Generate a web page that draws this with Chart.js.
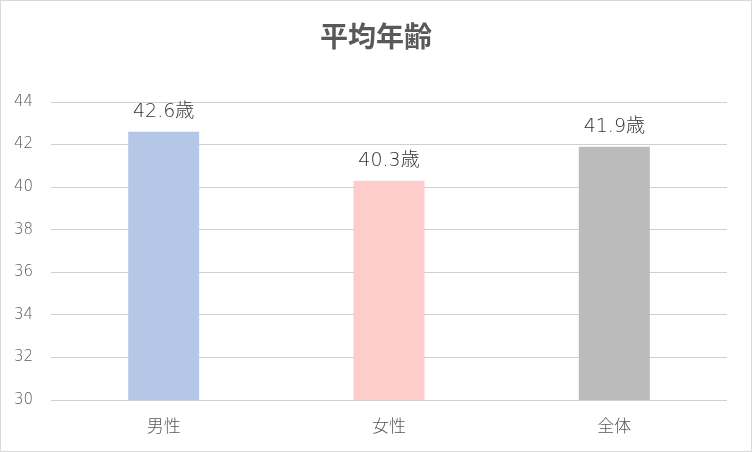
<!DOCTYPE html>
<html>
<head>
<meta charset="utf-8">
<script src="https://cdn.jsdelivr.net/npm/chart.js@4/dist/chart.umd.min.js"></script>
<style>
  html, body { margin: 0; padding: 0; background: #fff; }
  #wrap { width: 750px; height: 450px; border: 1px solid #d9d9d9; position: relative; }
</style>
</head>
<body>
<div id="wrap"><canvas id="chart" width="750" height="450"></canvas></div>
<script>
// データ
const categories = ['男性', '女性', '全体'];
const ages = [42.6, 40.3, 41.9];
const barColors = ['#B4C7E7', '#FFCCCC', '#BBBBBB'];
const unit = '歳';
const chartTitle = '平均年齢';

const fontFamily = '"DejaVu Sans", "Noto Sans CJK JP", sans-serif';
const titleFamily = '"Noto Sans CJK JP", sans-serif';

// 棒の上に値ラベル、キャンバス中央にタイトルを描く
const valueLabels = {
    id: 'valueLabels',
    afterDatasetsDraw(chart) {
        const ctx = chart.ctx;
        const meta = chart.getDatasetMeta(0);
        ctx.save();
        ctx.font = '300 19px ' + fontFamily;
        ctx.fillStyle = '#333333';
        ctx.textAlign = 'center';
        ctx.textBaseline = 'middle';
        meta.data.forEach((bar, i) => {
            ctx.fillText(ages[i].toFixed(1) + unit, bar.x, bar.y - 20);
        });

        ctx.font = 'bold 28px ' + titleFamily;
        ctx.fillStyle = '#595959';
        ctx.fillText(chartTitle, chart.width / 2, 35);
        ctx.restore();
    }
};

new Chart(document.getElementById('chart'), {
    type: 'bar',
    data: {
        labels: categories,
        datasets: [{
            data: ages,
            backgroundColor: barColors,
            borderWidth: 0,
            categoryPercentage: 1,
            barPercentage: 0.315
        }]
    },
    options: {
        responsive: false,
        animation: false,
        layout: { padding: { left: 0, right: 24, top: 101, bottom: 0 } },
        scales: {
            x: {
                grid: { display: false },
                border: { display: false },
                ticks: { color: '#595959', font: { size: 17, weight: 300, family: fontFamily }, padding: 9, maxRotation: 0 },
                afterFit(scale) { scale.height = 51; }
            },
            y: {
                min: 30,
                max: 44,
                ticks: { stepSize: 2, color: '#595959', font: { size: 15, weight: 300, family: fontFamily }, padding: 18 },
                grid: { color: '#d0d0d0', lineWidth: 1, drawTicks: false },
                border: { display: false },
                afterFit(scale) { scale.width = 50; }
            }
        },
        plugins: {
            legend: { display: false },
            tooltip: { enabled: false },
            title: { display: false }
        }
    },
    plugins: [valueLabels]
});
</script>
</body>
</html>
